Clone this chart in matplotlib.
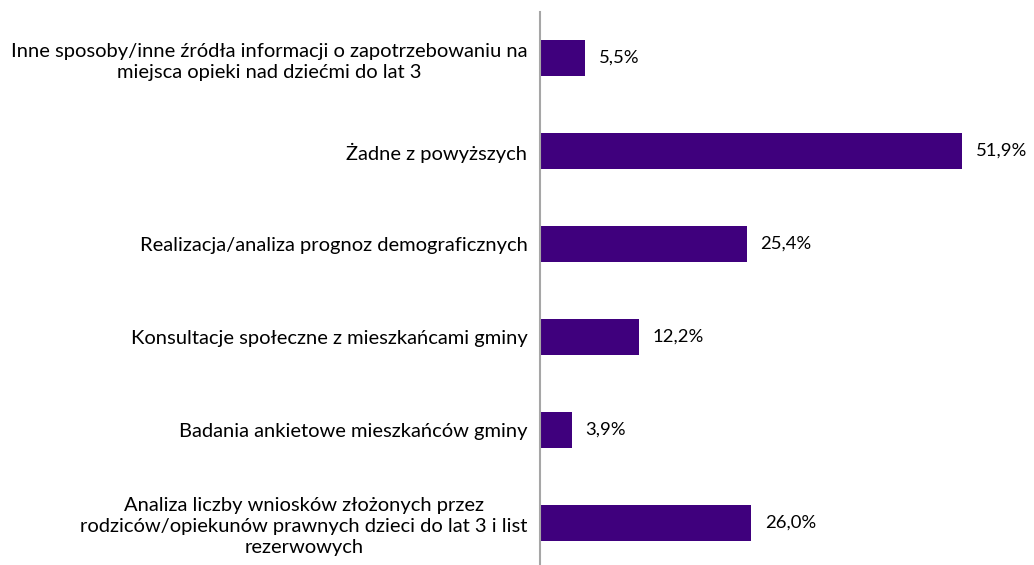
import matplotlib.pyplot as plt

plt.rcParams['font.family'] = ['Lato', 'DejaVu Sans']

# categories listed bottom to top
labels = [
    'Analiza liczby wniosków złożonych przez\nrodziców/opiekunów prawnych dzieci do lat 3 i list\nrezerwowych',
    'Badania ankietowe mieszkańców gminy',
    'Konsultacje społeczne z mieszkańcami gminy',
    'Realizacja/analiza prognoz demograficznych',
    'Żadne z powyższych',
    'Inne sposoby/inne źródła informacji o zapotrzebowaniu na\nmiejsca opieki nad dziećmi do lat 3',
]
values = [26.0, 3.9, 12.2, 25.4, 51.9, 5.5]

W, H = 1034, 565
fig = plt.figure(figsize=(W / 100, H / 100), dpi=100)
# axes spans from the vertical axis line to the right edge
ax = fig.add_axes([540 / W, 0, 1 - 540 / W, 1 - 12 / H])

pos = range(len(values))
ax.barh(pos, values, height=0.39, color='#3F007D')

for y, v in zip(pos, values):
    ax.text(v + 1.7, y, f'{v:.1f}%'.replace('.', ','), va='center', ha='left',
            fontsize=13.3, color='#000000')

ax.set_xlim(0, 494 / 8.13)
ax.set_ylim(-0.451, 5.495)
ax.set_yticks(list(pos))
ax.set_yticklabels(labels, fontsize=14.5, multialignment='center', linespacing=1.3)
ax.tick_params(axis='y', length=0, pad=9)
ax.set_xticks([])

for side in ['top', 'right', 'bottom']:
    ax.spines[side].set_visible(False)
ax.spines['left'].set_color('#A6A6A6')
ax.spines['left'].set_linewidth(1.5)

fig.savefig('out.png', dpi=100)
